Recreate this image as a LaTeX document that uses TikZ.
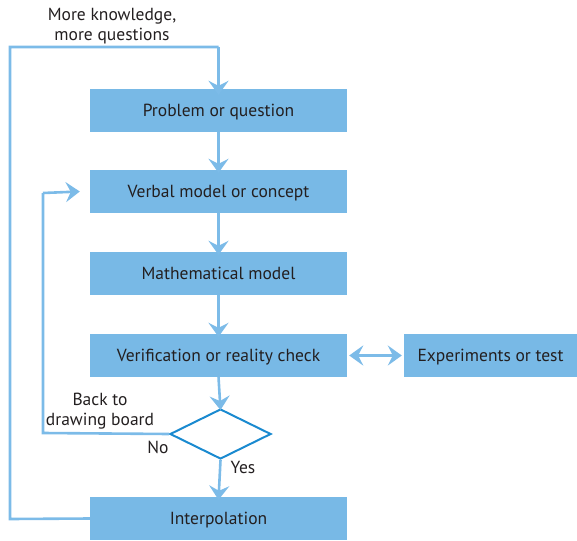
\documentclass[tikz,border=0pt]{standalone}
\usepackage{fontspec}
\setmainfont{PT Sans}
\usetikzlibrary{shapes.geometric,arrows.meta}
\definecolor{boxblue}{HTML}{78B9E6}
\definecolor{lineblue}{HTML}{7CBBE8}
\definecolor{diablue}{HTML}{1A8AD0}
\definecolor{txt}{HTML}{231F20}
\tikzset{
  stepbox/.style={fill=boxblue, draw=none, minimum width=257pt, minimum height=43pt, inner sep=0pt, text=txt, font=\fontsize{17.5}{20}\selectfont, text height=12.3pt, text depth=0pt},
  flow/.style={draw=lineblue, line width=2.6pt, -{Stealth[length=14pt,width=20pt,inset=5pt]}},
  flowtwo/.style={draw=lineblue, line width=2.6pt, {Stealth[length=14pt,width=20pt,inset=5pt]}-{Stealth[length=14pt,width=20pt,inset=5pt]}},
  loopline/.style={draw=lineblue, line width=2.6pt},
  lbl/.style={text=txt, font=\fontsize{17.5}{19.5}\selectfont, align=center, inner sep=0pt},
}
\begin{document}
\begin{tikzpicture}[x=1pt,y=-1pt]
\useasboundingbox (0,0) rectangle (577,540);
\node[stepbox] (p) at (218.5,110.5) {Problem or question};
\node[stepbox] (v) at (218.5,191.5) {Verbal model or concept};
\node[stepbox] (m) at (218.5,273.5) {Mathematical model};
\node[stepbox] (r) at (218.5,355.5) {Verification or reality check};
\node[stepbox, minimum width=173pt] (e) at (490.5,355.5) {Experiments or test};
\node[diamond, draw=diablue, line width=2pt, minimum width=101pt, minimum height=50pt, inner sep=0pt, aspect=2] (d) at (220.5,434) {};
\node[stepbox] (i) at (218.5,518.5) {Interpolation};
\coordinate (t1) at (10,519);
\coordinate (t2) at (10,47);
\coordinate (t3) at (218.5,47);
\coordinate (b1) at (43,433);
\coordinate (b2) at (43,193);
\draw[flow] (p.south) -- ([yshift=-3pt]v.north);
\draw[flow] (v.south) -- ([yshift=-3pt]m.north);
\draw[flow] (m.south) -- ([yshift=-3pt]r.north);
\draw[flow] (r.south) -- ([yshift=-2pt]d.north);
\draw[flow] (d.south) -- ([yshift=-3pt]i.north);
\draw[flowtwo] ([xshift=2pt]r.east) -- ([xshift=-2pt]e.west);
\draw[loopline] (i.west) -- (t1) -- (t2) -- (t3);
\draw[flow] (t3) -- ([yshift=-6pt]p.north);
\draw[loopline] (d.west) -- (b1) -- (b2);
\draw[flow] (b2) -- ([xshift=-10pt]v.west);
\node[lbl] (l1) at (112,26) {More knowledge,\\more questions};
\node[lbl] (l2) at (100,411) {Back to\\drawing board};
\node[lbl] (l3) at (158,447) {No};
\node[lbl] (l4) at (243,467) {Yes};
\end{tikzpicture}
\end{document}
